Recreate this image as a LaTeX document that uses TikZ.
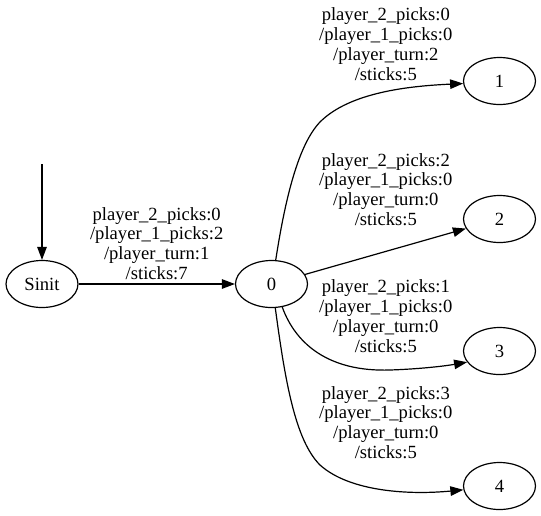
\documentclass[tikz,border=0pt]{standalone}
\usepackage{fontspec}
\setmainfont{Liberation Serif}
\usetikzlibrary{shapes.geometric,arrows.meta}
\tikzset{
    state/.style={draw, ellipse, line width=1.2pt, minimum width=72pt,
        minimum height=47pt, inner sep=0pt, font=\fontsize{18.6}{20}\selectfont},
    edgelbl/.style={align=center, inner sep=0pt,
        font=\fontsize{18.6}{19.8}\selectfont},
    trans/.style={line width=1.2pt, -{Triangle[length=13pt,width=9.5pt]}}
}
\begin{document}
\begin{tikzpicture}[x=1pt,y=-1pt]
        \useasboundingbox (0,0) rectangle (541,515);
        %% States
        \node[state] (sinit) at (42,284) {Sinit};
        \node[state] (s0) at (271.5,284) {0};
        \node[state] (s1) at (499.5,81) {1};
        \node[state] (s2) at (499.5,219) {2};
        \node[state] (s3) at (499.5,351) {3};
        \node[state] (s4) at (499.5,486) {4};
        \coordinate (start) at (42,164);
        %% Transitions
        \draw[trans] (start) -- (sinit);
        \draw[trans] (sinit) -- (s0);
        \draw[trans] (s0.80) .. controls (285,200) and (298,145) .. (320,122)
            .. controls (350,92) and (410,86) .. (s1.184);
        \draw[trans] (s0) -- (s2);
        \draw[trans] (s0.-65) .. controls (296,345) and (330,372) .. (390,370)
            .. controls (420,369) and (445,366) .. (s3.199);
        \draw[trans] (s0.-81) .. controls (285,380) and (295,440) .. (320,465)
            .. controls (350,492) and (410,495) .. (s4.186);
        %% Labels
        \node[edgelbl] (lsinit) at (156.7,243.5)
            {player\_2\_picks:0\\/player\_1\_picks:2\\/player\_turn:1\\/sticks:7};
        \node[edgelbl] (l1) at (385.8,44)
            {player\_2\_picks:0\\/player\_1\_picks:0\\/player\_turn:2\\/sticks:5};
        \node[edgelbl] (l2) at (385.8,189.5)
            {player\_2\_picks:2\\/player\_1\_picks:0\\/player\_turn:0\\/sticks:5};
        \node[edgelbl] (l3) at (385.8,316)
            {player\_2\_picks:1\\/player\_1\_picks:0\\/player\_turn:0\\/sticks:5};
        \node[edgelbl] (l4) at (385.8,422.5)
            {player\_2\_picks:3\\/player\_1\_picks:0\\/player\_turn:0\\/sticks:5};
\end{tikzpicture}
\end{document}
